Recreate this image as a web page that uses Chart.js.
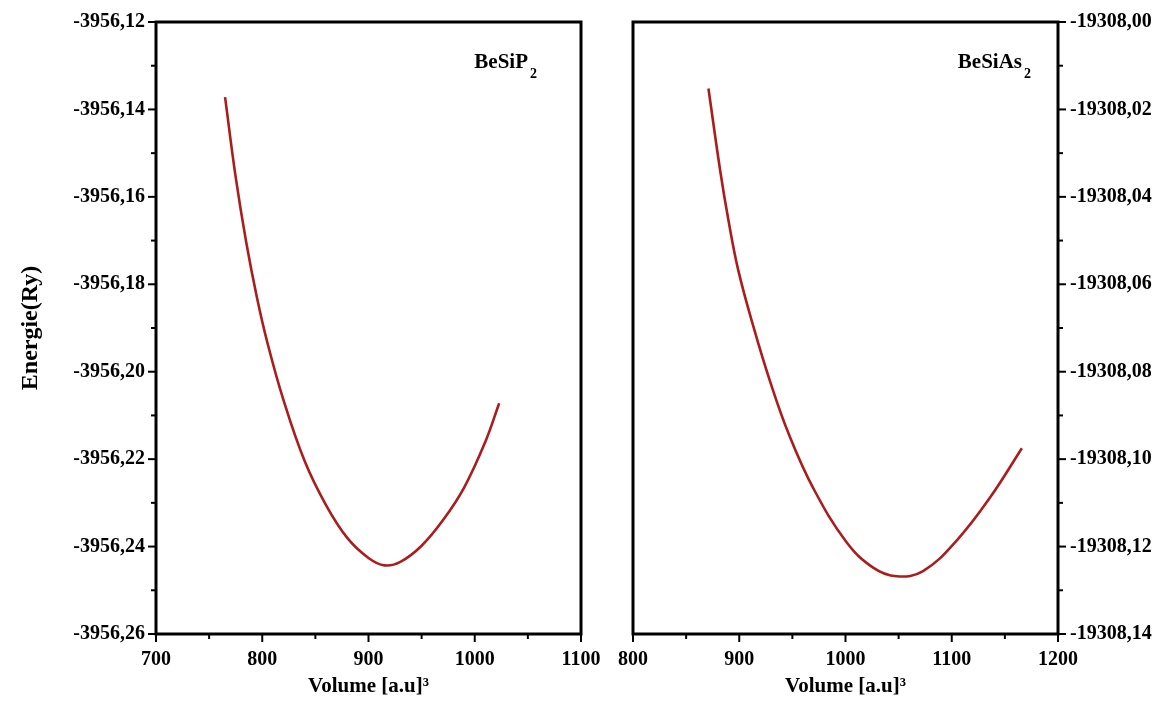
<!DOCTYPE html>
<html>
<head>
<meta charset="utf-8">
<title>Energie - Volume</title>
<script src="https://cdn.jsdelivr.net/npm/chart.js@4.4.1/dist/chart.umd.min.js"></script>
<style>
    html, body { margin: 0; padding: 0; background: #fff; }
    #wrap { position: relative; width: 1164px; height: 718px; overflow: hidden; }
    #leftChart { position: absolute; left: 0; top: 0; }
    #rightChart { position: absolute; left: 590px; top: 0; }
</style>
</head>
<body>
<div id="wrap">
    <canvas id="leftChart" width="620" height="718"></canvas>
    <canvas id="rightChart" width="574" height="718"></canvas>
</div>
<script>
// BeSiP2
var volumeP = [765, 775, 785, 795, 805, 820, 840, 860, 880, 900, 915, 930, 950, 970, 990, 1010, 1023];
var energieP = [-3956.1372, -3956.1555, -3956.1705, -3956.1830, -3956.1935, -3956.2065, -3956.2205, -3956.2305,
    -3956.2380, -3956.2426, -3956.2443, -3956.2435, -3956.2398, -3956.2340, -3956.2265, -3956.2160, -3956.2072];

// BeSiAs2
var volumeAs = [871, 882, 890, 899, 913, 929, 947, 970, 1001, 1026, 1048, 1073, 1105, 1136, 1166];
var energieAs = [-19308.0152, -19308.0339, -19308.0456, -19308.0567, -19308.0694, -19308.0822, -19308.0945, -19308.1068,
    -19308.1190, -19308.1248, -19308.1268, -19308.1256, -19308.1185, -19308.1088, -19308.0975];

var xRangeP = [700, 1100];
var yRangeP = [-3956.26, -3956.12];
var xRangeAs = [800, 1200];
var yRangeAs = [-19308.14, -19308.00];

var serif = "'Liberation Serif', 'Times New Roman', serif";
var curveColor = '#ab1d1d';

// frame round the plot area + major/minor tick marks
var boxPlugin = {
    id: 'box',
    afterDatasetsDraw: function (chart) {
        var a = chart.chartArea;
        var ctx = chart.ctx;
        ctx.save();
        ctx.strokeStyle = '#000';
        ctx.lineWidth = 2;
        ['x', 'y'].forEach(function (key) {
            var scale = chart.scales[key];
            scale.ticks.forEach(function (t, i) {
                var p = scale.getPixelForTick(i);
                var len = t.label !== '' ? 8 : 5;
                ctx.beginPath();
                if (key === 'x') {
                    ctx.moveTo(p, a.bottom);
                    ctx.lineTo(p, a.bottom + len);
                } else if (scale.position === 'left') {
                    ctx.moveTo(a.left, p);
                    ctx.lineTo(a.left - len, p);
                } else {
                    ctx.moveTo(a.right, p);
                    ctx.lineTo(a.right + len, p);
                }
                ctx.stroke();
            });
        });
        ctx.lineWidth = 3;
        ctx.strokeRect(a.left, a.top, a.right - a.left, a.bottom - a.top);
        ctx.restore();
    }
};

var formulaPlugin = {
    id: 'formula',
    afterDraw: function (chart, args, opts) {
        var a = chart.chartArea;
        var ctx = chart.ctx;
        var x = a.right - opts.right;
        var y = a.top + 46;
        ctx.save();
        ctx.fillStyle = '#000';
        ctx.textBaseline = 'alphabetic';
        ctx.textAlign = 'right';
        ctx.font = 'bold 21px ' + serif;
        ctx.fillText(opts.name, x, y);
        ctx.textAlign = 'left';
        ctx.font = 'bold 14px ' + serif;
        ctx.fillText(opts.sub, x + 2, y + 10);
        ctx.restore();
    }
};

function points(xs, ys) {
    return xs.map(function (v, i) {
        return { x: v, y: ys[i] };
    });
}

function makeChart(id, xs, ys, xRange, yRange, yPos, name, sub, nameRight) {
    var isLeft = yPos === 'left';
    return new Chart(document.getElementById(id).getContext('2d'), {
        type: 'scatter',
        data: {
            datasets: [{
                data: points(xs, ys),
                showLine: true,
                borderColor: curveColor,
                borderWidth: 2.6,
                pointRadius: 0,
                tension: 0.4
            }]
        },
        options: {
            responsive: false,
            animation: false,
            layout: {
                padding: isLeft ? { left: 0, right: 39, top: 22, bottom: 0 } : { left: 43, right: 0, top: 22, bottom: 0 }
            },
            scales: {
                x: {
                    type: 'linear',
                    min: xRange[0],
                    max: xRange[1],
                    border: { display: false },
                    grid: { drawOnChartArea: false, tickLength: 8, tickColor: 'rgba(0,0,0,0)' },
                    ticks: {
                        stepSize: 50,
                        autoSkip: false,
                        maxRotation: 0,
                        padding: 6,
                        color: '#000',
                        font: { family: serif, size: 20, weight: 'bold' },
                        callback: function (value) {
                            return value % 100 === 0 ? value : '';
                        }
                    },
                    title: {
                        display: true,
                        text: 'Volume [a.u]³',
                        color: '#000',
                        font: { family: serif, size: 21, weight: 'bold' },
                        padding: { top: 0, bottom: 19 }
                    },
                    afterFit: function (scale) {
                        scale.height = 84;
                    }
                },
                y: {
                    type: 'linear',
                    position: yPos,
                    min: yRange[0],
                    max: yRange[1],
                    border: { display: false },
                    grid: { drawOnChartArea: false, tickLength: 8, tickColor: 'rgba(0,0,0,0)' },
                    ticks: {
                        stepSize: 0.01,
                        autoSkip: false,
                        padding: isLeft ? 3 : 4,
                        color: '#000',
                        font: { family: serif, size: 20, weight: 'bold' },
                        callback: function (value) {
                            var k = Math.round(Math.abs(value) * 100);
                            return k % 2 === 0 ? value.toFixed(2).replace('.', ',') : '';
                        }
                    },
                    title: {
                        display: isLeft,
                        text: 'Energie(Ry)',
                        color: '#000',
                        font: { family: serif, size: 24, weight: 'bold' },
                        padding: { top: 16, bottom: 0 }
                    },
                    afterFit: function (scale) {
                        scale.width = isLeft ? 156 : 106;
                    }
                }
            },
            plugins: {
                legend: { display: false },
                tooltip: { enabled: false },
                formula: { name: name, sub: sub, right: nameRight }
            }
        },
        plugins: [boxPlugin, formulaPlugin]
    });
}

var leftChart = makeChart('leftChart', volumeP, energieP, xRangeP, yRangeP, 'left', 'BeSiP', '2', 53);
var rightChart = makeChart('rightChart', volumeAs, energieAs, xRangeAs, yRangeAs, 'right', 'BeSiAs', '2', 36);
</script>
</body>
</html>
